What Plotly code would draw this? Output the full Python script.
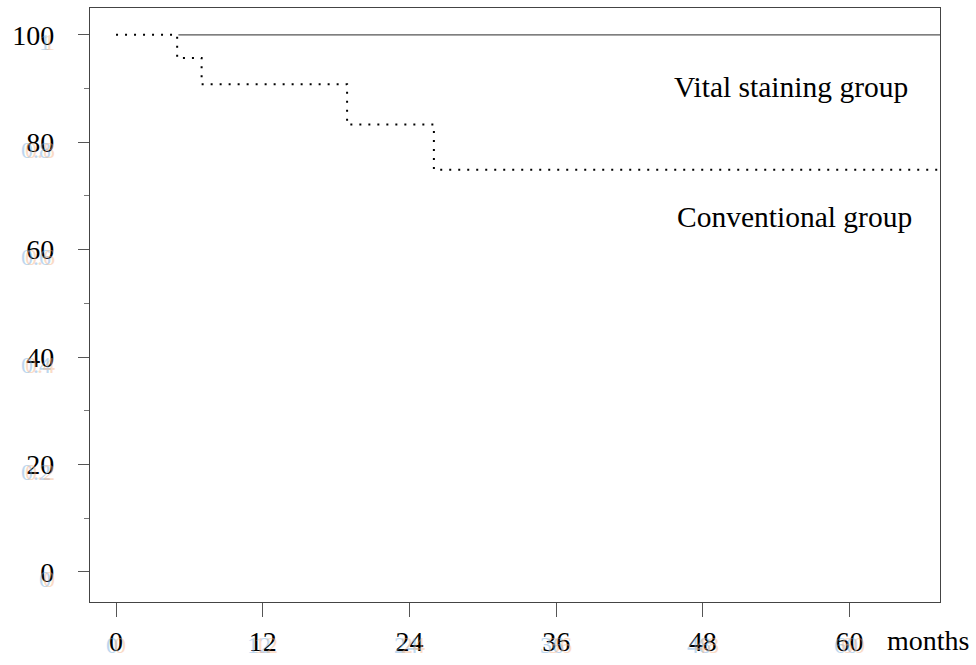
import plotly.graph_objects as go

# Kaplan-Meier style data (months, % survival)
conv_months = [0, 5.0, 7.0, 18.9, 26.0, 68]
conv_surv = [100, 95.7, 90.8, 83.3, 74.9, 74.9]
vital_months = [5.1, 68]
vital_surv = [100, 100]

x_ticks = [0, 12, 24, 36, 48, 60]
y_ticks = [0, 20, 40, 60, 80, 100]
y_ghost = ["0", "0.2", "0.4", "0.6", "0.8", "1"]

FONT = "Liberation Serif"
FS = 28
AFS = 29.5

fig = go.Figure()
fig.add_trace(go.Scatter(x=vital_months, y=vital_surv, mode="lines",
                         line=dict(color="#555555", width=1.2),
                         showlegend=False, hoverinfo="skip"))
fig.add_trace(go.Scatter(x=conv_months, y=conv_surv, mode="lines",
                         line=dict(color="black", width=2, dash="2px,7px", shape="hv"),
                         showlegend=False, hoverinfo="skip"))

annotations = [
    dict(x=55.2, y=90.2, xref="x", yref="y", text="Vital staining group", showarrow=False,
         font=dict(family=FONT, size=AFS, color="black"), xanchor="center", yanchor="middle"),
    dict(x=55.5, y=66.0, xref="x", yref="y", text="Conventional group", showarrow=False,
         font=dict(family=FONT, size=AFS, color="black"), xanchor="center", yanchor="middle"),
    dict(x=66.4, y=-0.064, xref="x", yref="paper", text="months", showarrow=False,
         font=dict(family=FONT, size=FS, color="black"), xanchor="center", yanchor="middle"),
]
# faint ghost tick labels
for v, t in zip(y_ticks, y_ghost):
    for dx, col in ((-0.043, "#6fa8dc"), (-0.039, "#f4b183")):
        annotations.append(dict(x=dx, y=v - 1.4, xref="paper", yref="y", text=t, showarrow=False,
                                font=dict(family=FONT, size=24, color=col), opacity=0.45,
                                xanchor="right", yanchor="middle"))
for v in x_ticks:
    for dx, col in ((-0.3, "#6fa8dc"), (0.3, "#f4b183")):
        annotations.append(dict(x=v + dx, y=-0.072, xref="x", yref="paper", text=str(v), showarrow=False,
                                font=dict(family=FONT, size=24, color=col), opacity=0.45,
                                xanchor="center", yanchor="middle"))

fig.update_layout(
    width=976, height=665,
    margin=dict(l=90, r=36, t=8, b=63, autoexpand=False),
    paper_bgcolor="white", plot_bgcolor="white",
    font=dict(family=FONT, size=FS, color="black"),
    annotations=annotations,
    xaxis=dict(range=[-2.13, 67.4], tickvals=x_ticks, ticktext=[str(v) for v in x_ticks],
               automargin=False,
               showgrid=False, zeroline=False, showline=True, mirror=True,
               linecolor="#444444", linewidth=1.2,
               ticks="outside", ticklen=14, tickcolor="#555555", tickwidth=1,
               ticklabelstandoff=0,
               tickfont=dict(family=FONT, size=FS, color="black")),
    yaxis=dict(range=[-5.6, 105.0], tickvals=y_ticks, ticktext=[str(v) for v in y_ticks],
               automargin=False,
               showgrid=False, zeroline=False, showline=True, mirror=True,
               linecolor="#444444", linewidth=1.2,
               ticks="outside", ticklen=11, tickcolor="#555555", tickwidth=1,
               ticklabelstandoff=18,
               minor=dict(tickvals=[10, 30, 50, 70, 90], ticks="outside", ticklen=5,
                          tickcolor="#777777", showgrid=False),
               tickfont=dict(family=FONT, size=FS, color="black")),
)

fig.write_html("out.html",
               config={"displayModeBar": False, "staticPlot": True},
               post_script="document.body.style.margin='0px';document.body.style.overflow='hidden';")
